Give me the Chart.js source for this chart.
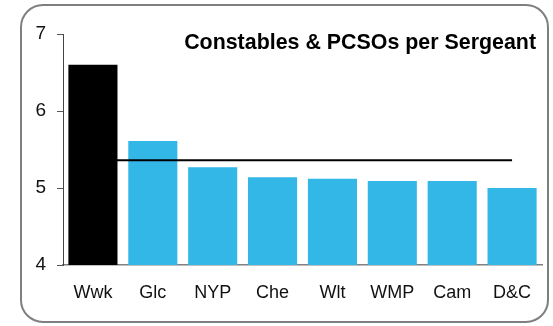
<!DOCTYPE html>
<html>
<head>
<meta charset="utf-8">
<script src="https://cdn.jsdelivr.net/npm/chart.js@4/dist/chart.umd.min.js"></script>
<style>
  html, body { margin: 0; padding: 0; background: #fff; }
  #wrap { position: relative; width: 553px; height: 326px; }
</style>
</head>
<body>
<div id="wrap"><canvas id="chart" width="553" height="326"></canvas></div>
<script>
// data
const categories = ['Wwk', 'Glc', 'NYP', 'Che', 'Wlt', 'WMP', 'Cam', 'D&C'];
const ratios = [6.6, 5.61, 5.27, 5.14, 5.12, 5.09, 5.09, 5.0];
const averageValue = 5.36;
const yTicks = [4, 5, 6, 7];
const titleText = 'Constables & PCSOs per Sergeant';

const FONT = '"Liberation Sans", Arial, sans-serif';
const barColors = categories.map((c, i) => i === 0 ? '#000000' : '#33B7E7');

// rounded frame + white background
const framePlugin = {
    id: 'frame',
    beforeDraw(chart) {
        const ctx = chart.ctx;
        ctx.save();
        ctx.fillStyle = '#fff';
        ctx.fillRect(0, 0, chart.width, chart.height);
        ctx.beginPath();
        ctx.roundRect(21, 5, 527, 317, 22);
        ctx.strokeStyle = '#7f7f7f';
        ctx.lineWidth = 2;
        ctx.stroke();
        ctx.restore();
    }
};

// title sits inside the plot area, top right
const titlePlugin = {
    id: 'innerTitle',
    afterDraw(chart) {
        const ctx = chart.ctx;
        ctx.save();
        ctx.font = 'bold 21.4px ' + FONT;
        ctx.fillStyle = '#000';
        ctx.textAlign = 'right';
        ctx.textBaseline = 'alphabetic';
        ctx.fillText(titleText, 536, 49);
        ctx.restore();
    }
};

new Chart(document.getElementById('chart'), {
    data: {
        labels: categories,
        datasets: [
            {
                type: 'line',
                data: categories.map(() => averageValue),
                borderColor: '#000',
                borderWidth: 2,
                pointRadius: 0,
                order: 0
            },
            {
                type: 'bar',
                data: ratios,
                backgroundColor: barColors,
                barPercentage: 0.82,
                categoryPercentage: 1,
                order: 1
            }
        ]
    },
    options: {
        responsive: false,
        animation: false,
        events: [],
        layout: { padding: { left: 0, right: 11, top: 34, bottom: 0 } },
        plugins: {
            legend: { display: false },
            title: { display: false },
            tooltip: { enabled: false }
        },
        scales: {
            x: {
                grid: { display: true, drawOnChartArea: false, drawTicks: false },
                border: { display: true, color: '#808080', width: 1.5 },
                ticks: { color: '#111', font: { family: FONT, size: 18 }, padding: 17 },
                afterFit(scale) { scale.height = 61; }
            },
            y: {
                min: 4,
                max: 7,
                afterBuildTicks(scale) { scale.ticks = yTicks.map(v => ({ value: v })); },
                grid: { drawOnChartArea: false, drawTicks: true, tickLength: 6, color: '#555' },
                border: { display: true, color: '#444', width: 1 },
                ticks: { color: '#111', font: { family: FONT, size: 19 }, padding: 11 },
                afterFit(scale) { scale.width = 63; }
            }
        }
    },
    plugins: [framePlugin, titlePlugin]
});
</script>
</body>
</html>
